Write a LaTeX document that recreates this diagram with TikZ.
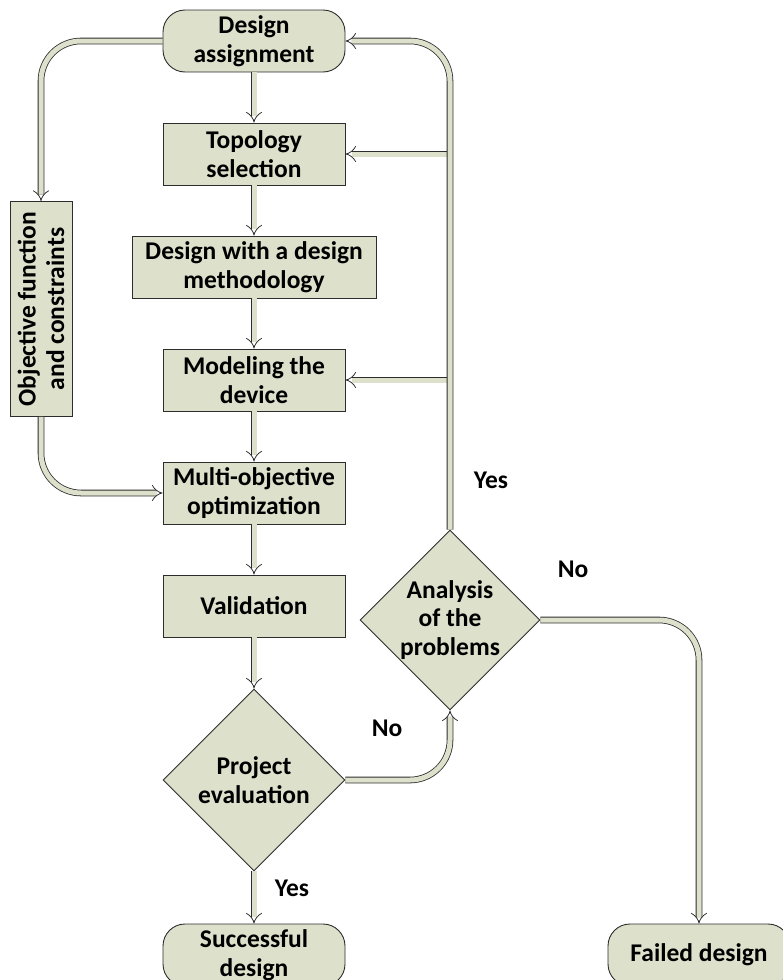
\documentclass[tikz,border=0pt]{standalone}
\usepackage{fontspec}
\setmainfont{Carlito}
\usetikzlibrary{arrows.meta}
\usetikzlibrary{shapes.geometric}
\definecolor{boxfill}{RGB}{221,224,203}
\definecolor{boxline}{RGB}{45,45,45}
\tikzset{
  box/.style={draw=boxline, fill=boxfill, line width=0.9pt, minimum width=182pt, minimum height=62pt, align=center, inner sep=0pt, font=\bfseries\fontsize{25.5}{28.5}\selectfont},
  rbox/.style={box, rounded corners=22pt},
  decision/.style={box, diamond, aspect=1, minimum width=182pt, minimum height=182pt},
  conn/.style={draw=boxline, line width=0.8pt, double=boxfill, double distance=5pt, -{Implies}},
  lbl/.style={font=\bfseries\fontsize{25.5}{28.5}\selectfont}
}

\begin{document}
\begin{tikzpicture}[x=1pt,y=-1pt]
\useasboundingbox (0,0) rectangle (782,980);
\node[rbox] (assign) at (254,41) {Design\\assignment};
\node[box] (topo) at (254,154) {Topology\\selection};
\node[box, minimum width=244pt] (method) at (254,267) {Design with a design\\methodology};
\node[box] (model) at (254,380) {Modeling the\\device};
\node[box] (multi) at (254,493) {Multi-objective\\optimization};
\node[box] (valid) at (254,606) {Validation};
\node[decision] (eval) at (254,780) {Project\\evaluation};
\node[rbox] (success) at (254,955) {Successful\\design};
\node[decision, minimum width=180pt, minimum height=180pt] (anal) at (450,620) {Analysis\\of the\\problems};
\node[rbox] (failed) at (699,955) {Failed design};
\node[box, rotate=90, minimum width=215pt] (obj) at (41,309) {Objective function\\and constraints};

\node[lbl] (yesA) at (491,480) {Yes};
\node[lbl] (noA) at (573,569) {No};
\node[lbl] (noE) at (387,728) {No};
\node[lbl] (yesE) at (292,888) {Yes};

\draw[conn] (assign) -- (topo);
\draw[conn] (topo) -- (method);
\draw[conn] (method) -- (model);
\draw[conn] (model) -- (multi);
\draw[conn] (multi) -- (valid);
\draw[conn] (valid) -- (eval);
\draw[conn] (eval) -- (success);

\draw[conn, rounded corners=40pt] (assign.west) -| (obj.east);
\draw[conn, rounded corners=40pt] (obj.west) |- (multi.west);
\draw[conn, rounded corners=40pt] (eval.east) -| (anal.south);
\draw[conn, rounded corners=40pt] (anal.east) -| (failed.north);

\draw[conn] (anal.north |- topo.east) -- (topo.east);
\draw[conn] (anal.north |- model.east) -- (model.east);
\draw[conn, rounded corners=40pt] (anal.north) |- (assign.east);
\end{tikzpicture}
\end{document}
